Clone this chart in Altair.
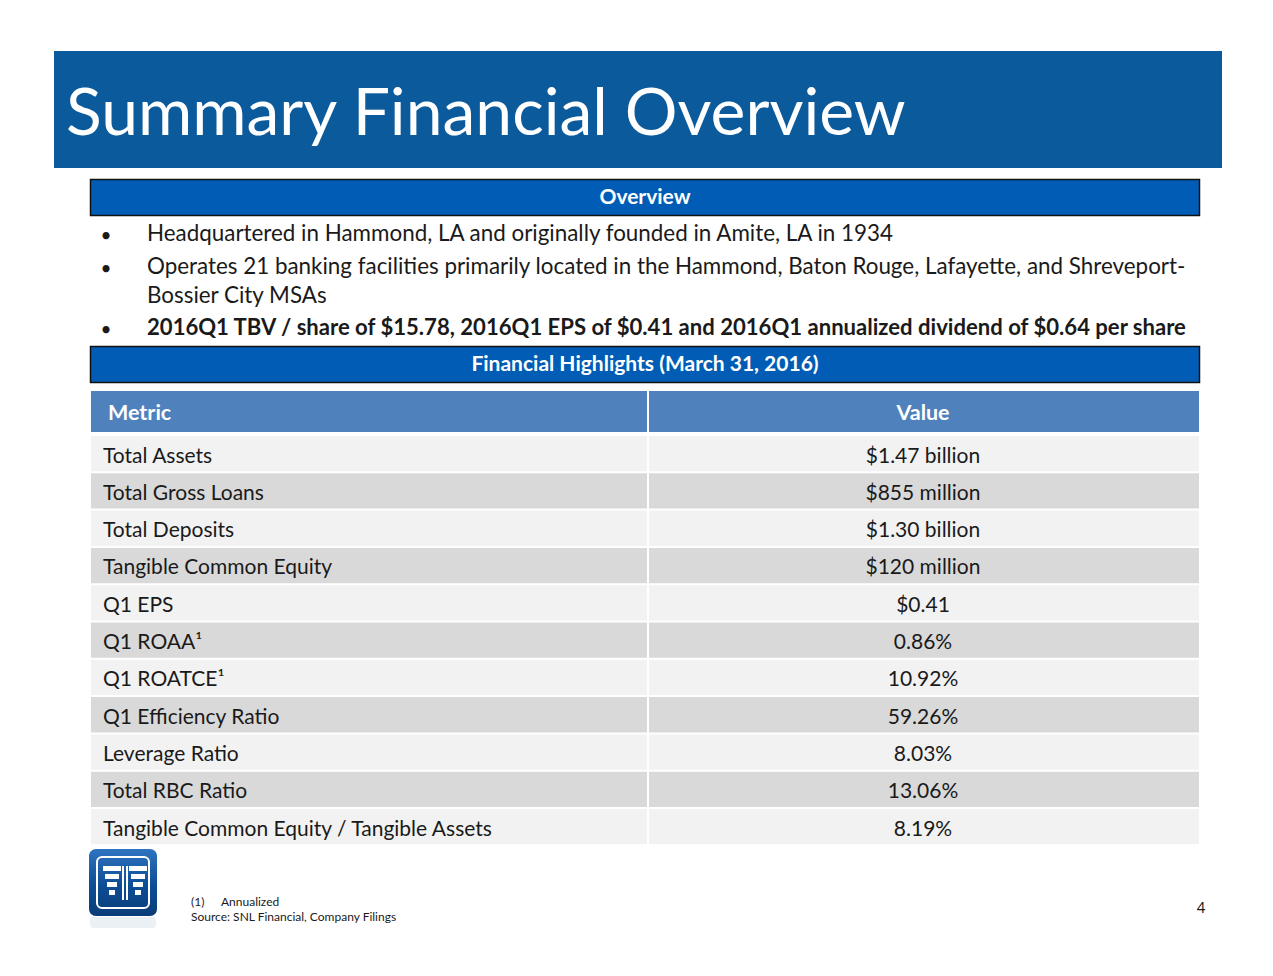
import altair as alt
import pandas as pd

# ---------------- content ----------------
title = "Summary Financial Overview"
overview_header = "Overview"
bullet_lines = [
    "Headquartered in Hammond, LA and originally founded in Amite, LA in 1934",
    "Operates 21 banking facilities primarily located in the Hammond, Baton Rouge, Lafayette, and Shreveport-",
    "Bossier City MSAs",
    "2016Q1 TBV / share of $15.78, 2016Q1 EPS of $0.41 and 2016Q1 annualized dividend of $0.64 per share",
]
bullet_marks = [True, True, False, True]
bullet_bold = [False, False, False, True]
highlights_header = "Financial Highlights (March 31, 2016)"
col_headers = ["Metric", "Value"]
metrics = [
    "Total Assets", "Total Gross Loans", "Total Deposits", "Tangible Common Equity",
    "Q1 EPS", "Q1 ROAA¹", "Q1 ROATCE¹", "Q1 Efficiency Ratio", "Leverage Ratio",
    "Total RBC Ratio", "Tangible Common Equity / Tangible Assets",
]
values = [
    "$1.47 billion", "$855 million", "$1.30 billion", "$120 million", "$0.41",
    "0.86%", "10.92%", "59.26%", "8.03%", "13.06%", "8.19%",
]
footnote_num = "(1)"
footnote_txt = "Annualized"
source_txt = "Source: SNL Financial, Company Filings"
page_num = "4"

FONT = "Lato"
W, H = 1257, 960
XS = alt.Scale(domain=[8, 8 + W], nice=False, zero=False)
YS = alt.Scale(domain=[8, 8 + H], reverse=True, nice=False, zero=False)


def rect_layer(df, **mark):
    return alt.Chart(df).mark_rect(**mark).encode(
        x=alt.X("x:Q", scale=XS, axis=None),
        x2="x2:Q",
        y=alt.Y("y:Q", scale=YS, axis=None),
        y2="y2:Q",
        color=alt.Color("fill:N", scale=None),
    )


def text_layer(df, size, weight="normal", align="left", color="#1a1a1a", font=FONT):
    return alt.Chart(df).mark_text(
        font=font, fontSize=size, fontWeight=weight, align=align,
        baseline="alphabetic", color=color,
    ).encode(
        x=alt.X("x:Q", scale=XS, axis=None),
        y=alt.Y("y:Q", scale=YS, axis=None),
        text="t:N",
    )


layers = []

# ---------------- title banner ----------------
layers.append(rect_layer(pd.DataFrame([dict(x=54, x2=1222, y=51, y2=168, fill="#0B5A9C")])))
layers.append(text_layer(pd.DataFrame([dict(x=66, y=135, t=title)]), 66, color="white"))

# ---------------- section header bars ----------------
bars = pd.DataFrame([
    dict(x=90.5, x2=1199.5, y=179.5, y2=215.5, fill="#005CB4"),
    dict(x=90.5, x2=1199.5, y=346.5, y2=382.5, fill="#005CB4"),
])
layers.append(rect_layer(bars, stroke="#111111", strokeWidth=1.5))
layers.append(text_layer(pd.DataFrame([
    dict(x=645, y=204, t=overview_header),
    dict(x=645, y=371, t=highlights_header),
]), 21, weight="bold", align="center", color="white"))

# ---------------- bullets ----------------
line_base = [241, 274, 303, 335]
bl = pd.DataFrame([dict(x=106, y=line_base[i] + 1, t="•") for i in range(4) if bullet_marks[i]])
layers.append(text_layer(bl, 19, align="center"))
layers.append(text_layer(pd.DataFrame([
    dict(x=147, y=line_base[i], t=bullet_lines[i]) for i in range(4) if not bullet_bold[i]
]), 22.4))
layers.append(text_layer(pd.DataFrame([
    dict(x=147, y=line_base[i], t=bullet_lines[i]) for i in range(4) if bullet_bold[i]
]), 22.1, weight="bold"))

# ---------------- table ----------------
TX0, TDIV, TX1 = 91, 648, 1199
hdr = pd.DataFrame([
    dict(x=TX0, x2=TDIV - 1, y=391, y2=432, fill="#4F81BD"),
    dict(x=TDIV + 1, x2=TX1, y=391, y2=432, fill="#4F81BD"),
])
layers.append(rect_layer(hdr))
layers.append(text_layer(pd.DataFrame([dict(x=108, y=420, t=col_headers[0])]), 21.5, weight="bold", color="white"))
layers.append(text_layer(pd.DataFrame([dict(x=923, y=420, t=col_headers[1])]), 21.5, weight="bold", color="white", align="center"))

ROW0, ROWH = 436, 37.3
cells = []
for i in range(len(metrics)):
    top = ROW0 + i * ROWH
    fill = "#F2F2F2" if i % 2 == 0 else "#D9D9D9"
    cells.append(dict(x=TX0, x2=TDIV - 1, y=top, y2=top + ROWH - 2, fill=fill))
    cells.append(dict(x=TDIV + 1, x2=TX1, y=top, y2=top + ROWH - 2, fill=fill))
layers.append(rect_layer(pd.DataFrame(cells)))
layers.append(text_layer(pd.DataFrame([
    dict(x=103, y=ROW0 + i * ROWH + 26.5, t=m) for i, m in enumerate(metrics)
]), 21))
layers.append(text_layer(pd.DataFrame([
    dict(x=923, y=ROW0 + i * ROWH + 26.5, t=v) for i, v in enumerate(values)
]), 21, align="center"))

# ---------------- logo ----------------
logo_reflect = pd.DataFrame([dict(x=90, x2=156, y=917, y2=928, fill="#E6ECF2")])
layers.append(rect_layer(logo_reflect, cornerRadius=3, opacity=0.8))
layers.append(alt.Chart(pd.DataFrame([dict(x=89, x2=157, y=849, y2=916)])).mark_rect(
    cornerRadius=7,
    color=alt.Gradient(gradient="linear", x1=0, y1=0, x2=0, y2=1,
                       stops=[alt.GradientStop(color="#2E74C0", offset=0),
                              alt.GradientStop(color="#0C4D95", offset=0.55),
                              alt.GradientStop(color="#0A3D78", offset=1)]),
).encode(
    x=alt.X("x:Q", scale=XS, axis=None), x2="x2:Q",
    y=alt.Y("y:Q", scale=YS, axis=None), y2="y2:Q",
))
layers.append(alt.Chart(pd.DataFrame([dict(x=97, x2=149, y=857, y2=908)])).mark_rect(
    cornerRadius=5, fillOpacity=0, stroke="white", strokeWidth=2,
).encode(
    x=alt.X("x:Q", scale=XS, axis=None), x2="x2:Q",
    y=alt.Y("y:Q", scale=YS, axis=None), y2="y2:Q",
))
icon = pd.DataFrame([
    dict(x=103, x2=121, y=866, y2=871, fill="white"),
    dict(x=129, x2=147, y=866, y2=871, fill="white"),
    dict(x=105, x2=119, y=874, y2=879, fill="white"),
    dict(x=131, x2=145, y=874, y2=879, fill="white"),
    dict(x=107, x2=117, y=882, y2=887, fill="white"),
    dict(x=133, x2=143, y=882, y2=887, fill="white"),
    dict(x=109, x2=115, y=890, y2=895, fill="white"),
    dict(x=135, x2=141, y=890, y2=895, fill="white"),
    dict(x=122, x2=124, y=866, y2=900, fill="white"),
    dict(x=126, x2=128, y=866, y2=900, fill="white"),
])
layers.append(rect_layer(icon))

# ---------------- footnotes ----------------
layers.append(text_layer(pd.DataFrame([
    dict(x=191, y=906, t=footnote_num),
    dict(x=221, y=906, t=footnote_txt),
    dict(x=191, y=921, t=source_txt),
]), 12))
layers.append(text_layer(pd.DataFrame([dict(x=1201, y=913, t=page_num)]), 15, align="center"))

chart = alt.layer(*layers).properties(
    width=W, height=H, padding=0, autosize="none", background="white",
).configure_view(stroke=None)

chart.save("out.html", embed_options={"renderer": "svg", "actions": False})
